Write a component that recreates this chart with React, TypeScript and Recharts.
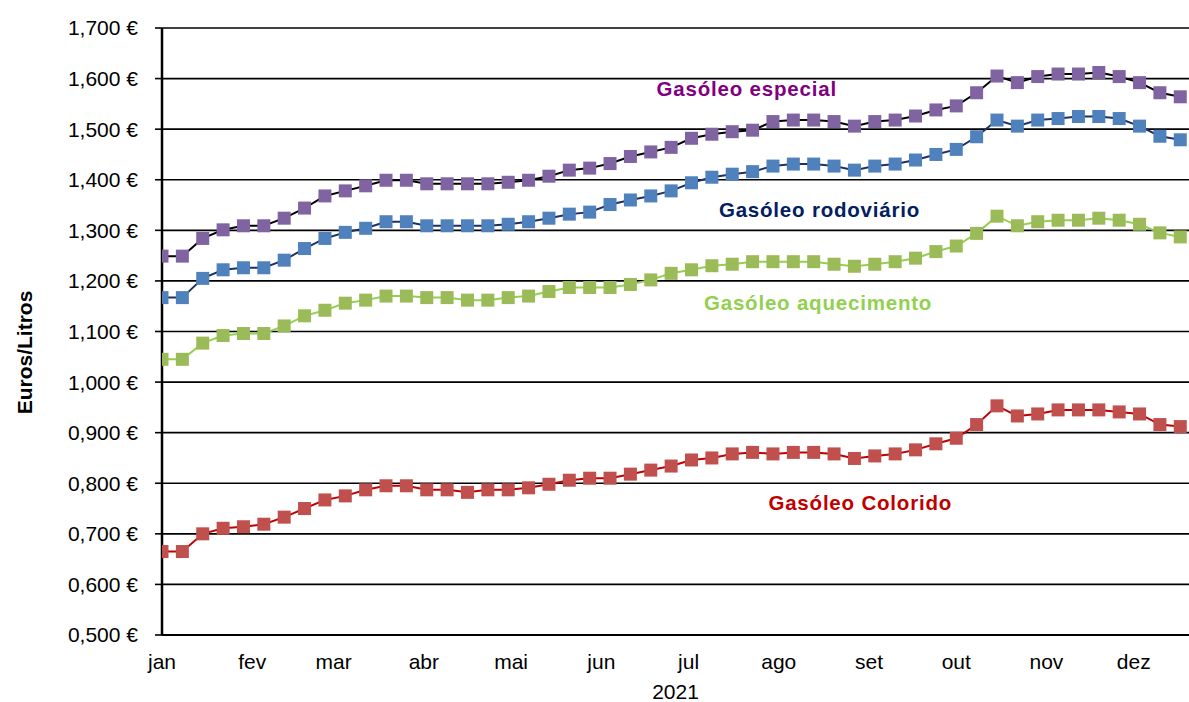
import React from 'react';
import {
  CartesianGrid,
  Line,
  LineChart,
  ReferenceDot,
  XAxis,
  YAxis,
} from 'recharts';

// weekly samples, x = day of year 2021
const weekDays = [
  0, 7, 14, 21, 28, 35, 42, 49, 56, 63, 70, 77, 84, 91, 98, 105, 112, 119,
  126, 133, 140, 147, 154, 161, 168, 175, 182, 189, 196, 203, 210, 217, 224,
  231, 238, 245, 252, 259, 266, 273, 280, 287, 294, 301, 308, 315, 322, 329,
  336, 343, 350,
];

const especial = [
  1.249, 1.249, 1.284, 1.301, 1.309, 1.309, 1.324, 1.344, 1.368, 1.378, 1.388,
  1.399, 1.399, 1.392, 1.392, 1.392, 1.392, 1.395, 1.399, 1.407, 1.419, 1.423,
  1.432, 1.446, 1.455, 1.464, 1.482, 1.49, 1.495, 1.498, 1.515, 1.518, 1.518,
  1.515, 1.506, 1.515, 1.518, 1.526, 1.538, 1.546, 1.572, 1.605, 1.592, 1.604,
  1.609, 1.609, 1.612, 1.604, 1.592, 1.572, 1.564,
];

const rodoviario = [
  1.167, 1.167, 1.205, 1.222, 1.226, 1.226, 1.241, 1.264, 1.284, 1.296, 1.304,
  1.317, 1.317, 1.309, 1.309, 1.309, 1.309, 1.312, 1.317, 1.324, 1.332, 1.336,
  1.351, 1.36, 1.368, 1.378, 1.394, 1.405, 1.411, 1.416, 1.427, 1.431, 1.431,
  1.427, 1.419, 1.427, 1.431, 1.439, 1.45, 1.46, 1.485, 1.518, 1.506, 1.518,
  1.521, 1.525, 1.525, 1.521, 1.506, 1.486, 1.479,
];

const aquecimento = [
  1.045, 1.045, 1.077, 1.092, 1.096, 1.096, 1.111, 1.131, 1.142, 1.156, 1.162,
  1.17, 1.17, 1.167, 1.167, 1.162, 1.162, 1.167, 1.17, 1.179, 1.187, 1.187,
  1.187, 1.193, 1.202, 1.215, 1.222, 1.23, 1.233, 1.238, 1.238, 1.238, 1.238,
  1.233, 1.229, 1.233, 1.238, 1.245, 1.258, 1.269, 1.294, 1.328, 1.309, 1.317,
  1.32, 1.32, 1.324, 1.32, 1.312, 1.295, 1.287,
];

const colorido = [
  0.665, 0.665, 0.7, 0.711, 0.714, 0.719, 0.733, 0.75, 0.767, 0.775, 0.787,
  0.795, 0.795, 0.787, 0.787, 0.782, 0.787, 0.787, 0.791, 0.798, 0.806, 0.81,
  0.81, 0.818, 0.826, 0.834, 0.846, 0.85, 0.858, 0.861, 0.858, 0.861, 0.861,
  0.858, 0.849, 0.854, 0.858, 0.866, 0.878, 0.889, 0.916, 0.953, 0.933, 0.937,
  0.945, 0.945, 0.945, 0.941, 0.937, 0.916, 0.912,
];

const monthTicks = [0, 31, 59, 90, 120, 151, 181, 212, 243, 273, 304, 334];
const monthNames = [
  'jan', 'fev', 'mar', 'abr', 'mai', 'jun',
  'jul', 'ago', 'set', 'out', 'nov', 'dez',
];
const yTicks = [0.5, 0.6, 0.7, 0.8, 0.9, 1.0, 1.1, 1.2, 1.3, 1.4, 1.5, 1.6, 1.7];

const series = [
  { key: 'especial', name: 'Gasóleo especial', line: '#000000', marker: '#8064A2', label: '#800080', lx: 201, ly: 1.579 },
  { key: 'rodoviario', name: 'Gasóleo rodoviário', line: '#1F2F60', marker: '#4F81BD', label: '#002060', lx: 226, ly: 1.34 },
  { key: 'aquecimento', name: 'Gasóleo aquecimento', line: '#92D050', marker: '#9BBB59', label: '#92D050', lx: 225.5, ly: 1.156 },
  { key: 'colorido', name: 'Gasóleo Colorido', line: '#C00000', marker: '#C0504D', label: '#C00000', lx: 240, ly: 0.761 },
];

const data = weekDays.map((day, i) => ({
  day,
  especial: especial[i],
  rodoviario: rodoviario[i],
  aquecimento: aquecimento[i],
  colorido: colorido[i],
}));

const FONT = '"Liberation Sans", Arial, sans-serif';

const squareDot = (color: string) => (props: any) => {
  const { cx, cy, index } = props;
  if (cx == null || cy == null) return <g key={index} />;
  return (
    <rect key={index} x={cx - 6.5} y={cy - 6.5} width={13} height={13} fill={color} />
  );
};

const fmtEuro = (v: number) => `${v.toFixed(3).replace('.', ',')} €`;

// axis title sits a bit below the plot's middle, like the source
const YTitle = (props: any) => {
  const vb = props.viewBox ?? { x: 0, y: 0, width: 0, height: 0 };
  const cy = vb.y + vb.height / 2 + 21;
  const x = 32;
  return (
    <text
      x={x}
      y={cy}
      transform={`rotate(-90 ${x} ${cy})`}
      textAnchor='middle'
      fill='#000'
      fontSize={21}
      fontWeight='bold'
      fontFamily={FONT}
    >
      Euros/Litros
    </text>
  );
};

export default function App() {
  return (
    <div style={{ position: 'absolute', left: 0, top: 0, width: 1189, height: 702, background: '#fff', fontFamily: FONT }}>
      <LineChart
        width={1189}
        height={702}
        data={data}
        margin={{ top: 28, right: 0, bottom: 0, left: 0 }}
      >
        <CartesianGrid vertical={false} stroke='#000' strokeWidth={1.6} />
        <XAxis
          type='number'
          dataKey='day'
          domain={[0, 353]}
          ticks={monthTicks}
          tickFormatter={(v) => monthNames[monthTicks.indexOf(v as number)] ?? ''}
          height={67}
          tickLine={false}
          tickSize={0}
          tickMargin={19}
          axisLine={{ stroke: '#000', strokeWidth: 2 }}
          tick={{ fill: '#000', fontSize: 21, fontFamily: FONT }}
          interval={0}
          allowDataOverflow
          label={{ value: '2021', position: 'insideBottom', offset: 3, fill: '#000', fontSize: 21, fontFamily: FONT }}
        />
        <YAxis
          type='number'
          domain={[0.5, 1.7]}
          ticks={yTicks}
          tickFormatter={(v) => fmtEuro(v as number)}
          width={162}
          tickSize={7}
          tickMargin={17}
          tickLine={{ stroke: '#000', strokeWidth: 1.6 }}
          axisLine={{ stroke: '#000', strokeWidth: 2.5 }}
          tick={{ fill: '#000', fontSize: 21, fontFamily: FONT }}
          interval={0}
          label={<YTitle />}
        />
        {series.map((s) => (
          <Line
            key={s.key}
            type='linear'
            dataKey={s.key}
            stroke={s.line}
            strokeWidth={2}
            dot={squareDot(s.marker)}
            activeDot={false}
            isAnimationActive={false}
          />
        ))}
        {series.map((s) => (
          <ReferenceDot
            key={`lbl-${s.key}`}
            x={s.lx}
            y={s.ly}
            r={0}
            fill='none'
            stroke='none'
            label={{
              value: s.name,
              position: 'center',
              fill: s.label,
              fontSize: 20.5,
              fontWeight: 'bold',
              fontFamily: FONT,
              letterSpacing: 0.8,
            }}
          />
        ))}
      </LineChart>
    </div>
  );
}
